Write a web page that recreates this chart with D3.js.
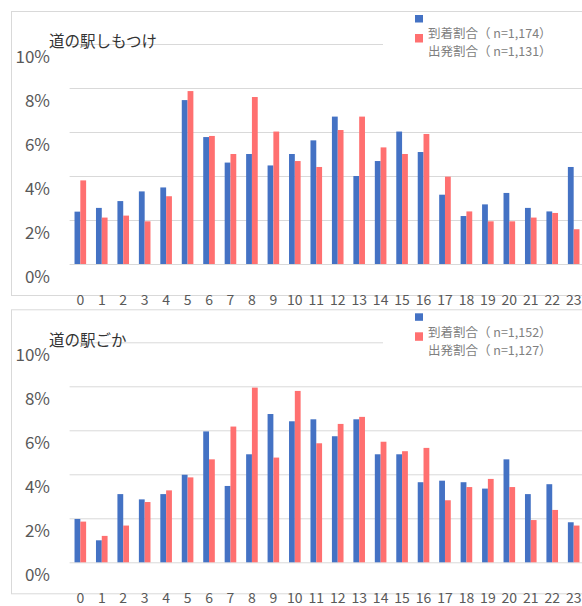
<!DOCTYPE html>
<html>
<head>
<meta charset="utf-8">
<script src="https://cdn.jsdelivr.net/npm/d3@7"></script>
<style>
  body { margin: 0; background: #ffffff; }
  text { font-family: "Noto Sans CJK JP", "Noto Sans", sans-serif; }
</style>
</head>
<body>
<div id="chart"></div>
<script>
// hour of day (tick labels)
const hours = ['0','1','2','3','4','5','6','7','8','9','10','11','12','13','14','15','16','17','18','19','20','21','22','23'];
const yTicks = [0, 2, 4, 6, 8, 10];

const stationNames = ['道の駅しもつけ', '道の駅ごか'];
const arrivalLabels = ['到着割合（ n=1,174）', '到着割合（ n=1,152）'];
const departLabels = ['出発割合（ n=1,131）', '出発割合（ n=1,127）'];

// share of trips per hour, %
const shimotsukeArrival = [2.38, 2.55, 2.86, 3.30, 3.48, 7.45, 5.77, 4.61, 5.00, 4.48, 5.00, 5.62,
                           6.70, 4.00, 4.68, 6.02, 5.09, 3.15, 2.18, 2.71, 3.23, 2.55, 2.39, 4.41];
const shimotsukeDeparture = [3.80, 2.11, 2.20, 1.94, 3.08, 7.86, 5.82, 5.00, 7.59, 6.02, 4.68, 4.41,
                             6.09, 6.70, 5.30, 5.00, 5.91, 3.97, 2.39, 1.94, 1.94, 2.11, 2.32, 1.58];
const gokaArrival = [1.97, 1.00, 3.10, 2.86, 3.10, 3.98, 5.95, 3.47, 4.91, 6.74, 6.41, 6.50,
                     5.73, 6.50, 4.91, 4.91, 3.64, 3.71, 3.64, 3.35, 4.68, 3.10, 3.55, 1.82];
const gokaDeparture = [1.85, 1.20, 1.67, 2.74, 3.27, 3.86, 4.68, 6.17, 7.94, 4.76, 7.79, 5.41,
                       6.29, 6.61, 5.48, 5.05, 5.20, 2.82, 3.42, 3.79, 3.42, 1.92, 2.38, 1.67];

const arrivalSeries = [shimotsukeArrival, gokaArrival];
const departureSeries = [shimotsukeDeparture, gokaDeparture];

const W = 582, H = 606;
const panelOffsets = [0, 298.3];
const blue = '#4472C4', red = '#FF7070';
const gridColor = '#d9d9d9';

const svg = d3.select('#chart').append('svg')
  .attr('width', W)
  .attr('height', H)
  .style('background', '#ffffff');

// same scales for both panels, panel offset via transform
const x = d3.scaleBand().domain(hours).range([69.6, 584.4]).padding(0);
const barW = 5.8;
const xSub = d3.scaleBand().domain(['arr', 'dep'])
  .range([x.bandwidth() / 2 - barW, x.bandwidth() / 2 + barW]);
const y = d3.scaleLinear().domain([0, 10]).range([264, 44]);

stationNames.forEach((name, i) => {
  const g = svg.append('g').attr('transform', `translate(0, ${panelOffsets[i]})`);

  // chart area border (runs off the right edge)
  g.append('rect')
    .attr('x', 11.5).attr('y', 11.5)
    .attr('width', 620).attr('height', 284)
    .attr('fill', 'none')
    .attr('stroke', gridColor)
    .attr('stroke-width', 1);

  // gridlines
  const grid = g.append('g')
    .attr('transform', `translate(${x.range()[0]}, 0)`)
    .call(d3.axisRight(y).tickValues(yTicks).tickSize(W).tickFormat(''));
  grid.select('.domain').remove();
  grid.selectAll('line').attr('stroke', gridColor).attr('stroke-width', 1);

  // legend box covers the top gridline
  g.append('rect')
    .attr('x', 383).attr('y', 13)
    .attr('width', 200).attr('height', 48)
    .attr('fill', '#ffffff');

  // bars
  const groups = g.append('g').selectAll('g')
    .data(hours)
    .join('g')
    .attr('transform', h => `translate(${x(h)}, 0)`);

  groups.append('rect')
    .attr('x', xSub('arr'))
    .attr('width', xSub.bandwidth())
    .attr('y', (h, j) => y(arrivalSeries[i][j]))
    .attr('height', (h, j) => y(0) - y(arrivalSeries[i][j]))
    .attr('fill', blue);

  groups.append('rect')
    .attr('x', xSub('dep'))
    .attr('width', xSub.bandwidth())
    .attr('y', (h, j) => y(departureSeries[i][j]))
    .attr('height', (h, j) => y(0) - y(departureSeries[i][j]))
    .attr('fill', red);

  // y labels (Excel puts them a bit below the gridline here)
  const yAxis = g.append('g')
    .attr('transform', `translate(${x.range()[0]}, 0)`)
    .call(d3.axisLeft(y).tickValues(yTicks).tickSize(0).tickPadding(19.6).tickFormat(d => d + '%'));
  yAxis.select('.domain').remove();
  yAxis.selectAll('text')
    .attr('y', 12.5)
    .attr('dy', '0.35em')
    .attr('font-size', '17px')
    .attr('fill', '#595959')
    .style('font-family', '"Noto Sans CJK JP", sans-serif');

  // x labels
  const xAxis = g.append('g')
    .attr('transform', `translate(0, ${y(0)})`)
    .call(d3.axisBottom(x).tickSize(0));
  xAxis.select('.domain').remove();
  xAxis.selectAll('text')
    .attr('y', 36)
    .attr('dy', '0.35em')
    .attr('font-size', '14px')
    .attr('fill', '#595959')
    .style('font-family', '"Noto Sans CJK JP", sans-serif');

  // title
  g.append('text')
    .attr('x', 49)
    .attr('y', 42)
    .attr('dy', '0.35em')
    .attr('font-size', '15.5px')
    .attr('fill', '#333333')
    .text(name);

  // legend
  g.append('rect').attr('x', 415).attr('y', 15).attr('width', 8).attr('height', 7.5).attr('fill', blue);
  g.append('rect').attr('x', 415).attr('y', 34).attr('width', 8).attr('height', 8.5).attr('fill', red);
  g.append('text')
    .attr('x', 428).attr('y', 34).attr('dy', '0.35em')
    .attr('font-size', '12.5px').attr('fill', '#808080')
    .text(arrivalLabels[i]);
  g.append('text')
    .attr('x', 428).attr('y', 52).attr('dy', '0.35em')
    .attr('font-size', '12.5px').attr('fill', '#808080')
    .text(departLabels[i]);
});
</script>
</body>
</html>
